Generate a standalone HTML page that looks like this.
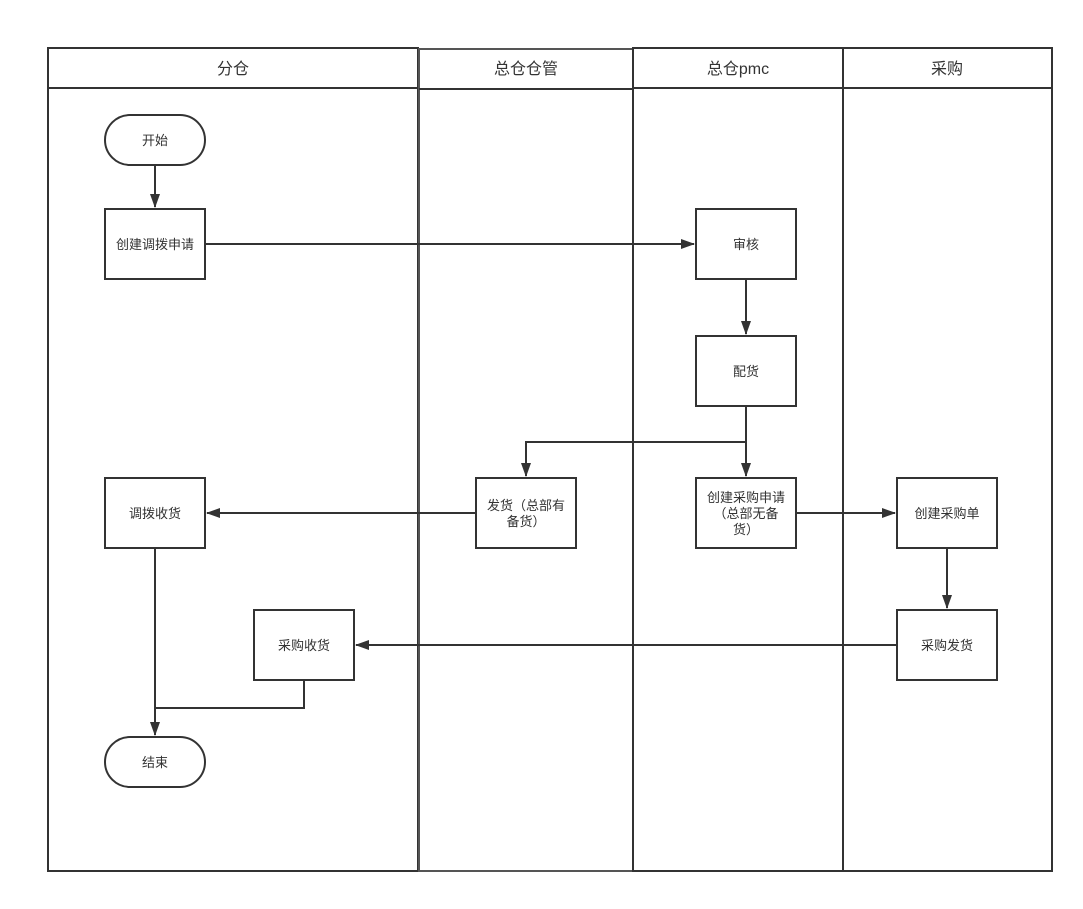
<!DOCTYPE html>
<html><head><meta charset="utf-8"><style>
html,body{margin:0;padding:0;background:#fff;}
svg text{font-family:"Liberation Sans","Noto Sans CJK SC",sans-serif;fill:#333;}
</style></head><body>
<svg width="1083" height="904" viewBox="0 0 1083 904" xmlns="http://www.w3.org/2000/svg">
<defs>
<marker id="a" markerWidth="14" markerHeight="10" refX="13" refY="5" orient="auto" markerUnits="userSpaceOnUse">
<path d="M0,0 L14,5 L0,10 Z" fill="#333"/></marker>
</defs>
<g fill="none" stroke="#333" stroke-width="2">
<rect x="48" y="48" width="370" height="823"/>
<line x1="48" y1="88" x2="418" y2="88"/>
<rect x="419" y="49" width="214" height="822" stroke="#555"/>
<line x1="419" y1="89" x2="633" y2="89"/>
<rect x="633" y="48" width="210" height="823"/>
<line x1="633" y1="88" x2="843" y2="88"/>
<rect x="843" y="48" width="209" height="823"/>
<line x1="843" y1="88" x2="1052" y2="88"/>
</g>
<g font-size="16" text-anchor="middle">
<text x="233" y="74">分仓</text>
<text x="526" y="74">总仓仓管</text>
<text x="738" y="74">总仓pmc</text>
<text x="947" y="74">采购</text>
</g>
<g fill="#fff" stroke="#333" stroke-width="2">
<rect x="105" y="115" width="100" height="50" rx="25"/>
<rect x="105" y="209" width="100" height="70"/>
<rect x="696" y="209" width="100" height="70"/>
<rect x="696" y="336" width="100" height="70"/>
<rect x="105" y="478" width="100" height="70"/>
<rect x="476" y="478" width="100" height="70"/>
<rect x="696" y="478" width="100" height="70"/>
<rect x="897" y="478" width="100" height="70"/>
<rect x="254" y="610" width="100" height="70"/>
<rect x="897" y="610" width="100" height="70"/>
<rect x="105" y="737" width="100" height="50" rx="25"/>
</g>
<g fill="none" stroke="#333" stroke-width="2">
<line x1="155" y1="165" x2="155" y2="207" marker-end="url(#a)"/>
<line x1="205" y1="244" x2="694" y2="244" marker-end="url(#a)"/>
<line x1="746" y1="279" x2="746" y2="334" marker-end="url(#a)"/>
<line x1="746" y1="406" x2="746" y2="476" marker-end="url(#a)"/>
<polyline points="746,442 526,442 526,476" marker-end="url(#a)"/>
<line x1="476" y1="513" x2="207" y2="513" marker-end="url(#a)"/>
<line x1="796" y1="513" x2="895" y2="513" marker-end="url(#a)"/>
<line x1="947" y1="548" x2="947" y2="608" marker-end="url(#a)"/>
<line x1="897" y1="645" x2="356" y2="645" marker-end="url(#a)"/>
<line x1="155" y1="548" x2="155" y2="735" marker-end="url(#a)"/>
<polyline points="304,680 304,708 155,708"/>
</g>
<g font-size="13" text-anchor="middle">
<text x="155" y="145">开始</text>
<text x="155" y="249">创建调拨申请</text>
<text x="746" y="249">审核</text>
<text x="746" y="376">配货</text>
<text x="155" y="518">调拨收货</text>
<text x="526" y="510">发货（总部有</text>
<text x="526" y="526">备货）</text>
<text x="746" y="502">创建采购申请</text>
<text x="746" y="518">（总部无备</text>
<text x="746" y="534">货）</text>
<text x="947" y="518">创建采购单</text>
<text x="304" y="650">采购收货</text>
<text x="947" y="650">采购发货</text>
<text x="155" y="767">结束</text>
</g>
</svg>
</body></html>
